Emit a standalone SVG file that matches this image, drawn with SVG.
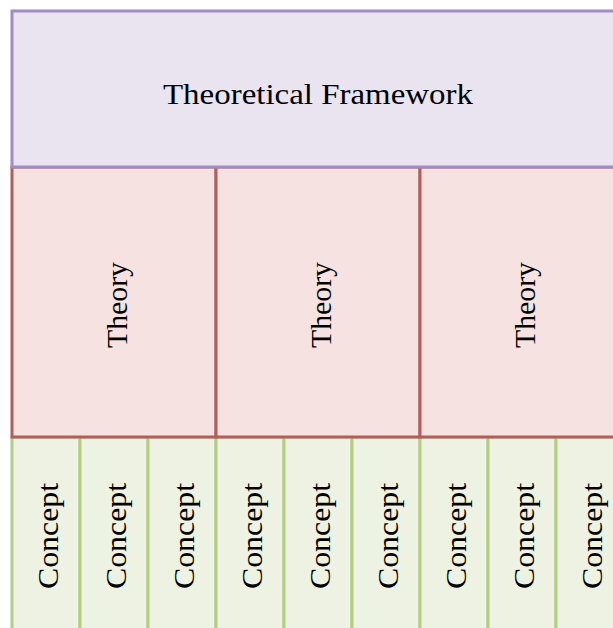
<svg xmlns="http://www.w3.org/2000/svg" width="613" height="628" viewBox="0 0 613 628">
  <style>
    .fw { fill: #eae4f1; stroke: #a08cc6; stroke-width: 3; }
    .th { fill: #f5e2e1; stroke: #b05e5c; stroke-width: 3; }
    .co { fill: #eef2e3; stroke: #b4cd82; stroke-width: 3; }
    text { font-family: "Liberation Serif", "Times New Roman", serif; font-size: 30px; fill: #000; text-anchor: middle; dominant-baseline: central; }
    .tc { font-size: 30px; }
  </style>
  <rect width="613" height="628" fill="#ffffff"/>

  <!-- concept row -->
  <g id="concept-1"><rect class="co" x="12" y="437" width="68" height="200"/><text transform="translate(47,536) rotate(-90)" textLength="106" lengthAdjust="spacingAndGlyphs">Concept</text></g>
  <g id="concept-2"><rect class="co" x="80" y="437" width="68" height="200"/><text transform="translate(115,536) rotate(-90)" textLength="106" lengthAdjust="spacingAndGlyphs">Concept</text></g>
  <g id="concept-3"><rect class="co" x="148" y="437" width="68" height="200"/><text transform="translate(183,536) rotate(-90)" textLength="106" lengthAdjust="spacingAndGlyphs">Concept</text></g>
  <g id="concept-4"><rect class="co" x="216" y="437" width="68" height="200"/><text transform="translate(251,536) rotate(-90)" textLength="106" lengthAdjust="spacingAndGlyphs">Concept</text></g>
  <g id="concept-5"><rect class="co" x="284" y="437" width="68" height="200"/><text transform="translate(319,536) rotate(-90)" textLength="106" lengthAdjust="spacingAndGlyphs">Concept</text></g>
  <g id="concept-6"><rect class="co" x="352" y="437" width="68" height="200"/><text transform="translate(387,536) rotate(-90)" textLength="106" lengthAdjust="spacingAndGlyphs">Concept</text></g>
  <g id="concept-7"><rect class="co" x="420" y="437" width="68" height="200"/><text transform="translate(455,536) rotate(-90)" textLength="106" lengthAdjust="spacingAndGlyphs">Concept</text></g>
  <g id="concept-8"><rect class="co" x="488" y="437" width="68" height="200"/><text transform="translate(523,536) rotate(-90)" textLength="106" lengthAdjust="spacingAndGlyphs">Concept</text></g>
  <g id="concept-9"><rect class="co" x="556" y="437" width="68" height="200"/><text transform="translate(591,536) rotate(-90)" textLength="106" lengthAdjust="spacingAndGlyphs">Concept</text></g>

  <!-- theory row -->
  <g id="theory-1"><rect class="th" x="12" y="167" width="204" height="270"/><text transform="translate(116,305) rotate(-90)" textLength="86" lengthAdjust="spacingAndGlyphs">Theory</text></g>
  <g id="theory-2"><rect class="th" x="216" y="167" width="204" height="270"/><text transform="translate(320,305) rotate(-90)" textLength="86" lengthAdjust="spacingAndGlyphs">Theory</text></g>
  <g id="theory-3"><rect class="th" x="420" y="167" width="204" height="270"/><text transform="translate(524,305) rotate(-90)" textLength="86" lengthAdjust="spacingAndGlyphs">Theory</text></g>

  <!-- framework header -->
  <g id="framework"><rect class="fw" x="12" y="11" width="612" height="156"/><text x="318" y="93" textLength="310" lengthAdjust="spacingAndGlyphs">Theoretical Framework</text></g>

  <g id="connectors"/>
</svg>
